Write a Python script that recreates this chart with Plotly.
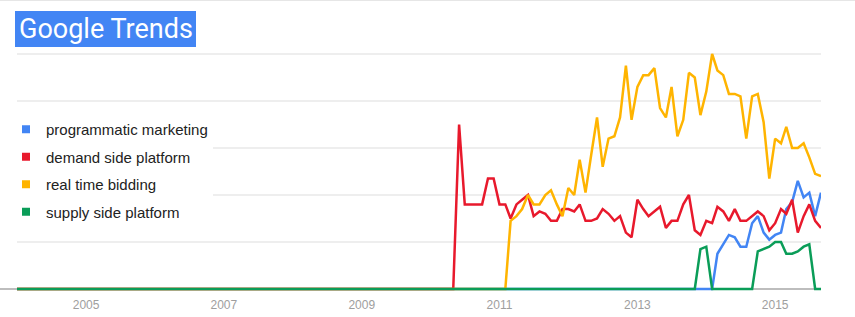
import plotly.graph_objects as go
import pandas as pd

# ---------------- data (monthly, Jan 2004 .. Sep 2015) ----------------
months = pd.date_range("2004-01-01", periods=141, freq="MS")

series_names = ["programmatic marketing", "demand side platform",
                "real time bidding", "supply side platform"]

programmatic_marketing = [0] * 122 + [
    15, 19, 23, 22, 18, 18, 28, 31, 24, 21, 23, 24, 34, 37, 46, 39, 41, 31, 41]

demand_side_platform = [0] * 77 + [
    70, 36, 36, 36, 36, 47, 47, 36, 36, 30, 36, 38, 40, 31, 33, 32, 29, 29,
    34, 34, 33, 36, 29, 29, 30, 34, 32, 29, 31, 24, 22, 38, 34, 31, 33, 35,
    26, 29, 29, 36, 40, 25, 23, 29, 28, 35, 33, 29, 34, 29, 29, 31, 33, 31,
    25, 28, 34, 32, 38, 24, 31, 36, 29, 26]

real_time_bidding = [0] * 86 + [
    29, 31, 34, 40, 36, 36, 40, 42, 36, 31, 43, 40, 55, 41, 57, 73, 52, 64,
    65, 73, 95, 72, 86, 91, 91, 94, 77, 73, 86, 65, 72, 92, 90, 74, 84, 100,
    93, 91, 83, 83, 82, 64, 82, 83, 71, 47, 64, 62, 69, 60, 60, 62, 56, 49, 48]

supply_side_platform = [0] * 119 + [17, 18] + [0] * 8 + [
    16, 17, 18, 20, 20, 15, 15, 16, 18, 19] + [0, 0]

tick_years = ["2005", "2007", "2009", "2011", "2013", "2015"]
grid_values = [20, 40, 60, 80, 100]

colors = ["#4285F4", "#E8192C", "#FFB400", "#0A9D58"]
all_series = [programmatic_marketing, demand_side_platform,
              real_time_bidding, supply_side_platform]

# ---------------- layout geometry ----------------
W, H = 855, 317
ML, MR, MT, MB = 17, 34, 49, 23
PW, PH = W - ML - MR, H - MT - MB


def px2x(p):
    return (p - ML) / PW


def py2y(p):
    return (H - MB - p) / PH


fig = go.Figure()

for name, vals, col in zip(series_names, all_series, colors):
    fig.add_trace(go.Scatter(
        x=months, y=vals, mode="lines", name=name,
        line=dict(color=col, width=2.5), showlegend=False,
        hoverinfo="x+y+name"))

for name, col in zip(series_names, colors):
    fig.add_trace(go.Scatter(
        x=[None], y=[None], mode="markers", name=name, legendgroup=name,
        marker=dict(symbol="square", size=8, color=col), showlegend=True))

shapes = [
    # baseline extending to the left edge
    dict(type="line", xref="paper", yref="y", x0=-ML / PW, x1=1, y0=0, y1=0,
         line=dict(color="#bdbdbd", width=2), layer="below"),
    # thin top border
    dict(type="line", xref="paper", yref="paper", x0=-ML / PW, x1=1 + MR / PW,
         y0=py2y(0.5), y1=py2y(0.5), line=dict(color="#e6e6e6", width=1)),
    # title box
    dict(type="rect", xref="paper", yref="paper",
         x0=px2x(15), x1=px2x(196), y0=py2y(47), y1=py2y(11),
         fillcolor="#4285F4", line=dict(width=0)),
]

annotations = [
    dict(text="Google Trends", xref="paper", yref="paper",
         x=px2x(105.5), y=py2y(29), xanchor="center", yanchor="middle",
         showarrow=False, font=dict(family="Roboto", size=27, color="white")),
]

ypx = 235 / 100.0
pad = 5 / ypx

fig.update_layout(
    width=W, height=H,
    margin=dict(l=ML, r=MR, t=MT, b=MB, pad=0, autoexpand=False),
    paper_bgcolor="white", plot_bgcolor="white",
    shapes=shapes, annotations=annotations,
    showlegend=True,
    legend=dict(x=px2x(6), y=py2y(113), xanchor="left", yanchor="top",
                bgcolor="white", borderwidth=0, tracegroupgap=5,
                font=dict(family="Liberation Sans, Arial", size=15,
                          color="#222222")),
    xaxis=dict(type="date", range=[months[0], months[-1]],
               tickvals=[f"{y}-01-01" for y in tick_years],
               ticktext=tick_years, showgrid=False, zeroline=False,
               showline=False, ticks="", automargin=False,
               ticklabelstandoff=2,
               tickfont=dict(family="Liberation Sans, Arial", size=12,
                             color="#9e9e9e")),
    yaxis=dict(range=[-pad, 100 + pad], tickvals=grid_values,
               showticklabels=False, showgrid=True, gridcolor="#eeeeee",
               gridwidth=2, zeroline=False, showline=False, ticks="",
               automargin=False),
)

fig.write_html("out.html")
